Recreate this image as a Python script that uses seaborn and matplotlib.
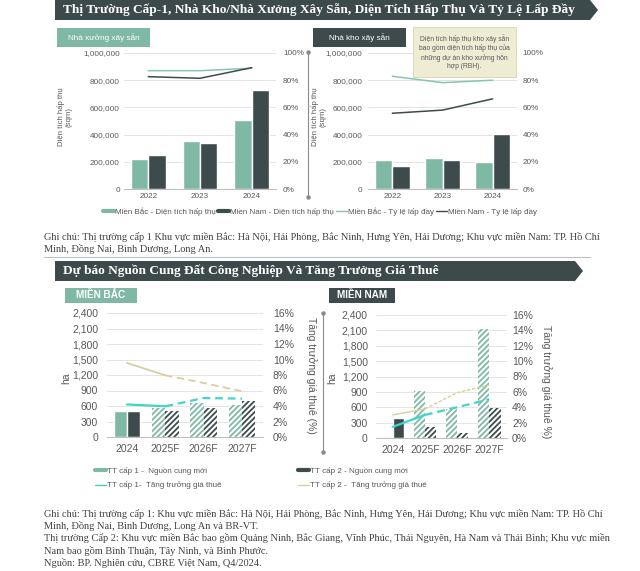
import numpy as np
import pandas as pd
import matplotlib
matplotlib.use("Agg")
import matplotlib.pyplot as plt
from matplotlib.patches import Polygon, Rectangle
from matplotlib.lines import Line2D
from matplotlib.ticker import FuncFormatter, MultipleLocator
import seaborn as sns

sns.set_theme(style="white")
plt.rcParams['font.family'] = ['Liberation Sans', 'DejaVu Sans']
plt.rcParams['hatch.linewidth'] = 1.3

# --- Data: tier-1 ready-built factories / warehouses ---
years1 = ["2022", "2023", "2024"]
xuong_bac_hap_thu = [218000, 350000, 507000]
xuong_nam_hap_thu = [252000, 338000, 728000]
xuong_bac_lap_day = [87.0, 87.0, 88.8]
xuong_nam_lap_day = [82.6, 81.4, 89.2]
kho_bac_hap_thu = [215000, 228000, 197000]
kho_nam_hap_thu = [168000, 212000, 401000]
kho_bac_lap_day = [82.9, 78.2, 80.0]
kho_nam_lap_day = [55.7, 58.0, 66.3]

# --- Data: industrial land supply forecast ---
years2 = ["2024", "2025F", "2026F", "2027F"]
bac_cap1_cung = [497, 561, 652, 613]
bac_cap2_cung = [500, 503, 561, 697]
bac_cap1_gia = [4.2, 3.96, 5.03, 4.95]
bac_cap2_gia = [9.55, 7.96, 6.97, 5.9]
nam_cap1_cung = [0, 917, 566, 2127]
nam_cap2_cung = [390, 215, 98, 585]
nam_cap1_gia = [1.45, 3.0, 4.0, 5.05]
nam_cap2_gia = [3.0, 3.77, 5.9, 6.9]

TEAL = "#80b8a6"
TEAL_LINE = "#88c4b4"
DARK = "#3e4b4d"
CYAN = "#3fd6c6"
KHAKI = "#d8cf9e"
GRAY = "#595959"
GRID = "#e4e4e4"

W, H = 640, 571
fig = plt.figure(figsize=(W / 100, H / 100), dpi=100)
fig.patch.set_facecolor("white")


def fx(x):
    return x / W


def fy(y):
    return 1 - y / H


def ax_at(l, t, r, b):
    return fig.add_axes([fx(l), fy(b), (r - l) / W, (b - t) / H])


def banner(x0, x1, y0, y1, text):
    ym = (y0 + y1) / 2
    pts = [(fx(x0), fy(y0)), (fx(x1), fy(y0)), (fx(x1 + 8), fy(ym)),
           (fx(x1), fy(y1)), (fx(x0), fy(y1))]
    fig.add_artist(Polygon(pts, closed=True, transform=fig.transFigure,
                           facecolor="#3c4a4b", edgecolor="none"))
    fig.text(fx(x0 + 8), fy(ym), text, color="white", fontsize=9.6,
             fontweight="bold", family="Liberation Serif", va="center", ha="left")


def label_box(x0, x1, y0, y1, text, color, size=5.9, weight="normal"):
    fig.add_artist(Rectangle((fx(x0), fy(y1)), (x1 - x0) / W, (y1 - y0) / H,
                             transform=fig.transFigure, facecolor=color,
                             edgecolor="none"))
    fig.text(fx((x0 + x1) / 2), fy((y0 + y1) / 2), text, color="white",
             fontsize=size, fontweight=weight, ha="center", va="center")


def separator(x, y0, y1):
    fig.add_artist(Line2D([fx(x), fx(x)], [fy(y0), fy(y1)], transform=fig.transFigure,
                          color="#8a8a8a", lw=0.8, marker="o", markersize=2.2))


def style_axes(ax, size):
    for s in ["top", "left", "right"]:
        ax.spines[s].set_visible(False)
    ax.spines["bottom"].set_color("#bfbfbf")
    ax.spines["bottom"].set_linewidth(0.8)
    ax.set_xlabel("")
    ax.set_ylabel("")
    ax.tick_params(length=0, labelsize=size, colors=GRAY)
    ax.grid(axis="y", color=GRID, lw=0.7)
    ax.set_axisbelow(True)


def bars(ax, cats, a, b, names, width, forecast=None):
    df = pd.DataFrame({"x": cats * 2, "y": a + b,
                       "g": [names[0]] * len(cats) + [names[1]] * len(cats)})
    sns.barplot(data=df, x="x", y="y", hue="g", palette=[TEAL, DARK],
                width=width, gap=0, ax=ax, legend=False, saturation=1)
    if forecast is not None:
        n = len(cats)
        for i, p in enumerate(ax.patches[:2 * n]):
            col = TEAL if i < n else DARK
            if cats[i % n] in forecast:
                p.set_facecolor("white")
                p.set_edgecolor(col)
                p.set_hatch("//////")
                p.set_linewidth(0)


# ---------------- Section 1 ----------------
banner(55, 590, 0, 20,
       "Thị Trường Cấp-1, Nhà Kho/Nhà Xưởng Xây Sẵn, Diện Tích Hấp Thụ Và Tỷ Lệ Lấp Đầy")

thousands = FuncFormatter(lambda v, p: f"{int(v):,}")
pct0 = FuncFormatter(lambda v, p: f"{int(round(v))}%")

panels1 = [
    (124, 276, "Nhà xưởng xây sẵn", TEAL, (57, 150), 65,
     xuong_bac_hap_thu, xuong_nam_hap_thu, xuong_bac_lap_day, xuong_nam_lap_day, 0.67, 3, 5),
    (368, 517, "Nhà kho xây sẵn", DARK, (313, 406), 319,
     kho_bac_hap_thu, kho_nam_hap_thu, kho_bac_lap_day, kho_nam_lap_day, 0.7, 4, 4),
]
for l, r, name, col, (bx0, bx1), ylx, a, b, la, lb, wd, padl, padr in panels1:
    ax = ax_at(l, 53, r, 189)
    bars(ax, years1, a, b, ["Miền Bắc", "Miền Nam"], wd)
    style_axes(ax, 5.9)
    ax.set_ylim(0, 1000000)
    ax.yaxis.set_major_locator(MultipleLocator(200000))
    ax.yaxis.set_major_formatter(thousands)
    ax.tick_params(axis="y", pad=padl)
    ax.tick_params(axis="x", pad=3)
    ax2 = ax.twinx()
    x = np.arange(len(years1))
    sns.lineplot(x=x, y=la, ax=ax2, color=TEAL_LINE, lw=1.1)
    sns.lineplot(x=x, y=lb, ax=ax2, color=DARK, lw=1.1)
    ax2.set_ylim(0, 100)
    ax2.yaxis.set_major_locator(MultipleLocator(20))
    ax2.yaxis.set_major_formatter(pct0)
    for s in ax2.spines.values():
        s.set_visible(False)
    ax2.set_ylabel("")
    ax2.tick_params(length=0, labelsize=5.9, colors=GRAY, pad=padr)
    label_box(bx0, bx1, 28, 47, name, col)
    fig.text(fx(ylx), fy(117), "Diện tích hấp thụ\n(sqm)", rotation=90, fontsize=5.6,
             color=GRAY, ha="center", va="center", linespacing=1.1)

separator(308, 52, 197)

# note box
fig.add_artist(Rectangle((fx(413), fy(77)), 103 / W, 50 / H, transform=fig.transFigure,
                         facecolor="#efecd4", edgecolor="#d9d3ac", lw=0.6))
fig.text(fx(464.5), fy(52), "Diện tích hấp thụ kho xây sẵn\nbao gồm diện tích hấp thụ của\n"
         "những dự án kho xưởng hỗn\nhợp (RBH).", fontsize=4.9, color=GRAY,
         ha="center", va="center", linespacing=1.15)

h1 = [Line2D([], [], color=TEAL, lw=3), Line2D([], [], color=DARK, lw=3),
      Line2D([], [], color=TEAL_LINE, lw=1), Line2D([], [], color=DARK, lw=1)]
l1 = ["Miền Bắc - Diện tích hấp thụ", "Miền Nam - Diện tích hấp thụ",
      "Miền Bắc - Tỷ lệ lấp đầy", "Miền Nam - Tỷ lệ lấp đầy"]
leg = fig.legend(h1, l1, loc="center", bbox_to_anchor=(fx(320), fy(212)), ncol=4,
                 frameon=False, fontsize=5.8, handlelength=1.4, handletextpad=0.15,
                 columnspacing=0.2)
for t in leg.get_texts():
    t.set_color(GRAY)

serif = dict(family="Liberation Serif", fontsize=7.45, color="#404040", ha="left", va="center")
fig.text(fx(44), fy(237), "Ghi chú: Thị trường cấp 1 Khu vực miền Bắc: Hà Nội, Hải Phòng, Bắc Ninh, "
         "Hưng Yên, Hải Dương; Khu vực miền Nam: TP. Hồ Chí", **serif)
fig.text(fx(44), fy(249), "Minh, Đồng Nai, Bình Dương, Long An.", **serif)
fig.add_artist(Line2D([fx(44), fx(590)], [fy(257), fy(257)], transform=fig.transFigure,
                      color="#b8c4c4", lw=0.8))

# ---------------- Section 2 ----------------
banner(55, 575, 261, 281, "Dự báo Nguồn Cung Đất Công Nghiệp Và Tăng Trưởng Giá Thuê")

panels2 = [
    (106.5, 262.5, 313, 437, "MIỀN BẮC", TEAL, (65, 137), 66, 6, 7.5,
     bac_cap1_cung, bac_cap2_cung, bac_cap1_gia, bac_cap2_gia),
    (375.5, 506.5, 315, 438, "MIỀN NAM", DARK, (329, 395), 332, 5.5, 4,
     nam_cap1_cung, nam_cap2_cung, nam_cap1_gia, nam_cap2_gia),
]
forecast = years2[1:]
for i, (l, r, t, b, name, col, (bx0, bx1), hax, padl, padr, a, bb, ga, gb) in enumerate(panels2):
    ax = ax_at(l, t, r, b)
    bars(ax, years2, a, bb, ["TT cấp 1", "TT cấp 2"], 0.7, forecast=forecast)
    style_axes(ax, 7.5)
    ax.set_ylim(0, 2400)
    ax.yaxis.set_major_locator(MultipleLocator(300))
    ax.yaxis.set_major_formatter(thousands)
    ax.tick_params(axis="y", pad=padl)
    ax.tick_params(axis="x", pad=5)
    ax2 = ax.twinx()
    x = np.arange(len(years2))
    sns.lineplot(x=x[:2], y=ga[:2], ax=ax2, color=CYAN, lw=1.6)
    sns.lineplot(x=x[1:], y=ga[1:], ax=ax2, color=CYAN, lw=1.6, dashes=(3.5, 2.2))
    sns.lineplot(x=x[:2], y=gb[:2], ax=ax2, color=KHAKI, lw=1.3 if i == 0 else 1.0)
    sns.lineplot(x=x[1:], y=gb[1:], ax=ax2, color=KHAKI, lw=1.3 if i == 0 else 1.0,
                 dashes=(4, 2.5) if i == 0 else (2.5, 1.2))
    ax2.set_ylim(0, 16)
    ax2.yaxis.set_major_locator(MultipleLocator(2))
    ax2.yaxis.set_major_formatter(pct0)
    for s in ax2.spines.values():
        s.set_visible(False)
    ax2.set_ylabel("")
    ax2.tick_params(length=0, labelsize=7.5, colors=GRAY, pad=padr)
    label_box(bx0, bx1, 288, 303, name, col, size=7.2, weight="bold")
    fig.text(fx(hax), fy(378), "ha", rotation=90, fontsize=7.5, color=GRAY,
             ha="center", va="center")

fig.text(fx(311), fy(375), "Tăng trưởng giá thuê (%)", rotation=-90, fontsize=7.5,
         color=GRAY, ha="center", va="center")
fig.text(fx(546), fy(382), "Tăng trưởng giá thuê %)", rotation=-90, fontsize=7.5,
         color=GRAY, ha="center", va="center")
separator(323, 313, 452)

h2a = [Line2D([], [], color=TEAL, lw=3), Line2D([], [], color=CYAN, lw=1)]
h2b = [Line2D([], [], color=DARK, lw=3), Line2D([], [], color=KHAKI, lw=1)]
for hs, labs, x0 in [(h2a, ["TT cấp 1 -  Nguồn cung mới", "TT cấp 1-  Tăng trưởng giá thuê"], 92),
                     (h2b, ["TT cấp 2 - Nguồn cung mới", "TT cấp 2 -  Tăng trưởng giá thuê"], 295)]:
    lg = fig.legend(hs, labs, loc="upper left", bbox_to_anchor=(fx(x0), fy(464)),
                    frameon=False, fontsize=5.8, handlelength=1.3, handletextpad=0.15,
                    labelspacing=0.75, borderaxespad=0)
    for t in lg.get_texts():
        t.set_color(GRAY)

notes2 = [
    "Ghi chú: Thị trường cấp 1: Khu vực miền Bắc: Hà Nội, Hải Phòng, Bắc Ninh, Hưng Yên, "
    "Hải Dương; Khu vực miền Nam: TP. Hồ Chí",
    "Minh, Đồng Nai, Bình Dương, Long An và BR-VT.",
    "Thị trường Cấp 2: Khu vực miền Bắc bao gồm Quảng Ninh, Bắc Giang, Vĩnh Phúc, "
    "Thái Nguyên, Hà Nam và Thái Bình; Khu vực miền",
    "Nam bao gồm Bình Thuận, Tây Ninh, và Bình Phước.",
    "Nguồn: BP. Nghiên cứu, CBRE Việt Nam, Q4/2024.",
]
for k, line in enumerate(notes2):
    fig.text(fx(44), fy(514 + 12.2 * k), line, **serif)

fig.savefig("out.png", dpi=100)
